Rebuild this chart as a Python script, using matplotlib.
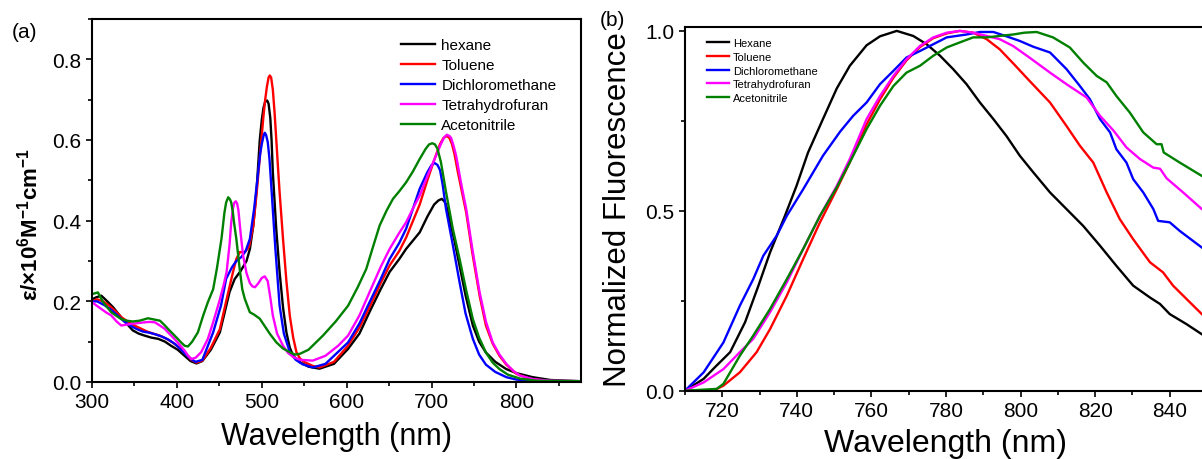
import numpy as np
import matplotlib
matplotlib.use("Agg")
import matplotlib.pyplot as plt
from matplotlib.ticker import MultipleLocator

plt.rcParams['font.family'] = ['Liberation Sans', 'DejaVu Sans']
plt.rcParams['mathtext.fontset'] = 'custom'
plt.rcParams['mathtext.rm'] = 'Liberation Sans'
plt.rcParams['mathtext.bf'] = 'Liberation Sans:bold'

# ---- (a) absorption spectra ----
abs_hex_wl = [300, 305, 311, 318, 325, 336, 348, 355, 362, 370, 378, 386, 393, 401, 409, 416, 423, 430, 440,
              450.6, 456, 462, 468, 475, 482, 486, 490, 494, 497.6, 500, 502, 504, 506.3, 508, 510, 511.5, 513,
              517, 521, 525, 529, 533, 537, 545, 555, 568, 585, 601.6, 615, 627, 640, 650.6, 662, 670, 686,
              695, 703, 708, 712, 715, 717, 721, 727, 733, 740, 748.6, 756, 764, 775, 788, 800, 819, 840, 860,
              875]
abs_hex = [0.205, 0.21, 0.214, 0.2, 0.185, 0.156, 0.128, 0.12, 0.115, 0.11, 0.107, 0.1, 0.09, 0.08, 0.065,
           0.052, 0.046, 0.052, 0.08, 0.123, 0.17, 0.223, 0.255, 0.275, 0.30, 0.33, 0.388, 0.48, 0.6, 0.65,
           0.68, 0.695, 0.698, 0.69, 0.655, 0.6, 0.52, 0.38, 0.272, 0.185, 0.123, 0.085, 0.065, 0.049, 0.038,
           0.033, 0.045, 0.082, 0.12, 0.174, 0.23, 0.273, 0.305, 0.33, 0.371, 0.41, 0.44, 0.45, 0.454, 0.448,
           0.44, 0.404, 0.35, 0.288, 0.215, 0.14, 0.1, 0.073, 0.05, 0.032, 0.022, 0.012, 0.005, 0.003, 0.002]

abs_tol_wl = [300, 306, 313, 320, 328, 335, 342, 350, 358, 365, 372, 380, 388, 395, 403, 410, 417, 423, 430,
              440, 450.6, 458, 466, 470, 474, 480, 485, 490, 494, 499.6, 502, 504, 506, 508, 509.4, 511, 513,
              515, 517, 519, 521, 525, 529, 533, 537, 540.8, 545, 550.6, 560, 568, 585, 601.6, 615, 627, 640,
              650.6, 662, 670, 686, 695, 703, 710, 714, 718, 721, 724, 727, 731, 740.8, 748, 756.5, 764, 772,
              780, 788, 800, 815, 835, 875]
abs_tol = [0.2, 0.205, 0.2, 0.19, 0.175, 0.16, 0.15, 0.14, 0.132, 0.125, 0.12, 0.115, 0.107, 0.098, 0.085,
           0.07, 0.055, 0.048, 0.053, 0.085, 0.131, 0.2, 0.272, 0.305, 0.322, 0.322, 0.335, 0.388, 0.47, 0.603,
           0.66, 0.7, 0.732, 0.755, 0.76, 0.755, 0.725, 0.67, 0.603, 0.535, 0.47, 0.355, 0.25, 0.164, 0.11,
           0.074, 0.058, 0.049, 0.04, 0.036, 0.05, 0.09, 0.135, 0.186, 0.245, 0.289, 0.325, 0.358, 0.44, 0.5,
           0.55, 0.59, 0.605, 0.61, 0.605, 0.59, 0.565, 0.52, 0.42, 0.32, 0.215, 0.14, 0.095, 0.065, 0.043,
           0.02, 0.008, 0.003, 0.002]

abs_dcm_wl = [300, 306, 315, 322, 330, 338, 345, 352, 360, 368, 375, 383, 390, 398, 405, 412, 418, 422, 430,
              442.7, 452, 458, 465, 470, 476, 481, 486, 491, 495.7, 498, 500, 502, 503.5, 505, 507, 509, 511.4,
              516, 521, 526, 533, 540, 548, 560, 575, 601.6, 615, 627, 640, 650.6, 662, 670, 686, 695, 700,
              703.5, 707, 710, 713, 717, 725, 733, 740, 748.6, 756, 764, 775, 788, 800, 820, 875]
abs_dcm = [0.2, 0.2, 0.19, 0.18, 0.165, 0.15, 0.14, 0.132, 0.125, 0.122, 0.118, 0.112, 0.105, 0.094, 0.08,
           0.065, 0.055, 0.05, 0.055, 0.123, 0.19, 0.256, 0.285, 0.30, 0.31, 0.325, 0.355, 0.43, 0.52, 0.565,
           0.59, 0.61, 0.618, 0.613, 0.595, 0.555, 0.479, 0.33, 0.189, 0.12, 0.074, 0.055, 0.044, 0.036,
           0.045, 0.098, 0.145, 0.198, 0.255, 0.305, 0.345, 0.38, 0.479, 0.52, 0.538, 0.543, 0.538, 0.525,
           0.49, 0.429, 0.34, 0.247, 0.17, 0.107, 0.068, 0.043, 0.025, 0.012, 0.006, 0.003, 0.002]

abs_thf_wl = [300, 305, 311, 317, 322.7, 329, 334.5, 340, 346, 354, 362, 368, 374, 380, 385.6, 391, 397, 403,
              409, 413, 417, 422, 428.6, 436.5, 442.7, 450, 455, 458.5, 462, 464, 466, 467.5, 469.4, 471,
              472.5, 475, 478, 482, 486, 489, 492, 496, 500, 503.5, 507, 510, 513, 518, 525, 531, 537, 545,
              560, 575, 590, 601.6, 615, 627, 640, 650.6, 662, 670, 678, 686, 695, 703, 711, 715, 718, 721,
              723, 726, 729, 735, 740.8, 748, 756.5, 764, 772, 780, 788, 796, 804, 820, 840, 875]
abs_thf = [0.198, 0.19, 0.181, 0.172, 0.165, 0.15, 0.14, 0.142, 0.144, 0.146, 0.148, 0.149, 0.148, 0.14,
           0.132, 0.12, 0.107, 0.093, 0.078, 0.066, 0.057, 0.06, 0.074, 0.107, 0.148, 0.2, 0.24, 0.272, 0.34,
           0.396, 0.43, 0.444, 0.448, 0.442, 0.425, 0.37, 0.313, 0.27, 0.245, 0.237, 0.235, 0.245, 0.258,
           0.262, 0.25, 0.21, 0.165, 0.12, 0.09, 0.072, 0.062, 0.055, 0.053, 0.065, 0.09, 0.115, 0.165, 0.223,
           0.285, 0.33, 0.37, 0.396, 0.43, 0.462, 0.51, 0.55, 0.59, 0.607, 0.613, 0.61, 0.605, 0.585, 0.56,
           0.49, 0.429, 0.33, 0.223, 0.15, 0.098, 0.068, 0.045, 0.028, 0.016, 0.007, 0.003, 0.002]

abs_acn_wl = [300, 307, 313, 318, 322.7, 328, 334.5, 341, 348, 356, 361, 366, 373, 380, 385, 389.4, 395, 401,
              405, 409, 413, 418, 424.7, 431, 436.5, 442.7, 447, 452.5, 456, 458, 460.4, 462.5, 464, 466, 467,
              470, 474, 477, 480, 485.9, 491, 497.6, 503, 510, 517.3, 525, 533, 539, 545, 555, 572, 587,
              601.6, 613, 623, 631, 638.8, 647, 654.5, 662, 670, 678, 686, 693, 697, 700.8, 704, 707, 711, 717,
              725, 733, 741, 748.6, 756, 764, 772, 780, 790, 805, 825, 875]
abs_acn = [0.218, 0.222, 0.198, 0.185, 0.173, 0.165, 0.156, 0.152, 0.15, 0.152, 0.155, 0.158, 0.155, 0.152,
           0.142, 0.132, 0.12, 0.107, 0.098, 0.09, 0.088, 0.1, 0.123, 0.165, 0.198, 0.23, 0.28, 0.355, 0.42,
           0.445, 0.458, 0.453, 0.445, 0.42, 0.4, 0.355, 0.28, 0.23, 0.206, 0.173, 0.167, 0.157, 0.14, 0.118,
           0.098, 0.083, 0.074, 0.068, 0.07, 0.08, 0.115, 0.15, 0.189, 0.235, 0.28, 0.335, 0.388, 0.425,
           0.454, 0.473, 0.495, 0.522, 0.553, 0.578, 0.589, 0.592, 0.589, 0.578, 0.545, 0.471, 0.38, 0.305,
           0.225, 0.156, 0.11, 0.073, 0.048, 0.032, 0.018, 0.008, 0.003, 0.002]

# ---- (b) normalized emission spectra ----
fl_hex_wl = [710, 715, 718, 722.1, 726.1, 729.7, 732.8, 736.8, 739.9, 743, 747, 750.7, 754.2, 758.7, 762.3,
             766.8, 771.2, 774.8, 778.4, 781.9, 785.5, 789.1, 792.7, 796.2, 799.8, 803.4, 807.9, 812.3, 816.8,
             821.3, 825.7, 830.2, 834.7, 837.4, 840, 844.5, 848.6, 850]
fl_hex = [0, 0.033, 0.065, 0.107, 0.19, 0.292, 0.384, 0.486, 0.569, 0.662, 0.755, 0.84, 0.903, 0.96, 0.985,
          1.0, 0.986, 0.963, 0.931, 0.894, 0.852, 0.801, 0.755, 0.708, 0.653, 0.607, 0.551, 0.505, 0.458,
          0.403, 0.347, 0.292, 0.259, 0.241, 0.213, 0.185, 0.157, 0.15]

fl_tol_wl = [710, 717.6, 720.3, 724.7, 729.2, 732.8, 737.3, 741.7, 746.2, 750.7, 754.2, 758.7, 762.3, 765.9,
             769.4, 773, 776.6, 780.2, 783.7, 787.3, 790.9, 794.4, 798, 802.5, 807.9, 812.3, 815.9, 819.5,
             823.1, 826.6, 830.2, 834.7, 838.2, 840.9, 844.5, 848.6, 850]
fl_tol = [0, 0, 0.014, 0.051, 0.107, 0.171, 0.264, 0.366, 0.468, 0.56, 0.635, 0.74, 0.81, 0.87, 0.918, 0.955,
          0.98, 0.993, 1.0, 0.995, 0.977, 0.949, 0.91, 0.86, 0.801, 0.736, 0.681, 0.634, 0.551, 0.477, 0.421,
          0.357, 0.329, 0.292, 0.255, 0.213, 0.2]

fl_dcm_wl = [710, 715, 720.3, 724.7, 728.3, 731, 734.6, 737.3, 741.7, 747, 751.6, 755.1, 758.7, 762.3, 765.9,
             769.4, 773, 776.6, 780.2, 785.5, 789.1, 792.7, 796.2, 799.8, 803.4, 807.9, 812.3, 815.9, 818.6,
             821.3, 824, 825.7, 828.4, 830.2, 832.9, 835.6, 836.9, 840, 842.7, 848.6, 850]
fl_dcm = [0, 0.051, 0.134, 0.236, 0.31, 0.375, 0.431, 0.486, 0.56, 0.653, 0.72, 0.764, 0.801, 0.852, 0.889,
          0.926, 0.944, 0.963, 0.982, 0.99, 0.997, 0.997, 0.985, 0.972, 0.956, 0.94, 0.894, 0.847, 0.81,
          0.755, 0.718, 0.671, 0.634, 0.588, 0.551, 0.505, 0.472, 0.468, 0.444, 0.398, 0.39]

fl_thf_wl = [710, 715, 720.3, 724.7, 728.3, 732.8, 737.3, 741.7, 746.2, 750.7, 754.2, 758.7, 762.3, 765.9,
             769.4, 773, 776.6, 780.2, 783.7, 787.3, 790.9, 794.4, 798, 802.5, 807.9, 812.3, 817.7, 821.3,
             825, 828.4, 832, 835.6, 837.4, 839.2, 843.6, 848.6, 850]
fl_thf = [0, 0.023, 0.06, 0.107, 0.144, 0.218, 0.301, 0.394, 0.486, 0.569, 0.644, 0.755, 0.819, 0.875, 0.921,
          0.958, 0.982, 0.995, 1.0, 0.995, 0.986, 0.977, 0.958, 0.925, 0.884, 0.852, 0.815, 0.764, 0.722,
          0.676, 0.644, 0.62, 0.617, 0.59, 0.551, 0.505, 0.495]

fl_acn_wl = [710, 718.5, 720.3, 724.7, 728.3, 732.8, 737.3, 741.7, 746.2, 750.7, 755.1, 758.7, 762.3, 765.9,
             769.4, 773, 776.6, 780.2, 783.7, 787.3, 791, 794.4, 798, 801, 804.3, 808.7, 813.2, 816.8, 820.4,
             823.1, 825.7, 829.3, 832.9, 836.5, 837.8, 838.4, 842.7, 848.6, 850]
fl_acn = [0, 0.005, 0.019, 0.097, 0.153, 0.227, 0.31, 0.394, 0.486, 0.565, 0.653, 0.727, 0.792, 0.847, 0.884,
          0.903, 0.931, 0.954, 0.968, 0.982, 0.982, 0.986, 0.99, 0.995, 0.997, 0.982, 0.954, 0.912, 0.875,
          0.857, 0.819, 0.773, 0.718, 0.685, 0.685, 0.662, 0.634, 0.597, 0.59]

colors = ['black', 'red', 'blue', 'magenta', 'green']
abs_labels = ['hexane', 'Toluene', 'Dichloromethane', 'Tetrahydrofuran', 'Acetonitrile']
fl_labels = ['Hexane', 'Toluene', 'Dichloromethane', 'Tetrahydrofuran', 'Acetonitrile']

abs_data = [(abs_hex_wl, abs_hex), (abs_tol_wl, abs_tol), (abs_dcm_wl, abs_dcm),
            (abs_thf_wl, abs_thf), (abs_acn_wl, abs_acn)]
fl_data = [(fl_hex_wl, fl_hex), (fl_tol_wl, fl_tol), (fl_dcm_wl, fl_dcm),
           (fl_thf_wl, fl_thf), (fl_acn_wl, fl_acn)]

W, H = 1202, 460
fig = plt.figure(figsize=(W / 100, H / 100), dpi=100)


def style_axes(ax):
    for s in ax.spines.values():
        s.set_linewidth(1.5)
    ax.tick_params(which='both', direction='out', width=1.2, labelsize=15, pad=3)
    ax.tick_params(which='major', length=4.5)
    ax.tick_params(which='minor', length=3)


# panel (a)
ax1 = fig.add_axes([92 / W, 1 - 383 / H, (581 - 92) / W, (383 - 20) / H])
for (x, y), c, lab in zip(abs_data, colors, abs_labels):
    ax1.plot(x, y, color=c, lw=1.7, label=lab)
ax1.set_xlim(300, 876)
ax1.set_ylim(0, 0.9)
ax1.xaxis.set_major_locator(MultipleLocator(100))
ax1.xaxis.set_minor_locator(MultipleLocator(50))
ax1.yaxis.set_major_locator(MultipleLocator(0.2))
ax1.yaxis.set_minor_locator(MultipleLocator(0.1))
style_axes(ax1)
ax1.set_xlabel('Wavelength (nm)', fontsize=22, labelpad=7)
ax1.set_ylabel('ε/×10$^{\\mathbf{6}}$M$^{\\mathbf{-1}}$cm$^{\\mathbf{-1}}$',
               fontsize=16, fontweight='bold')
ax1.yaxis.set_label_coords(-0.101, 0.435)
ax1.legend(loc='upper left', bbox_to_anchor=(0.632, 0.948), frameon=False, fontsize=11,
           handlelength=2.2, handletextpad=0.44, labelspacing=0.4, borderpad=0, borderaxespad=0)
fig.text(12 / W, 1 - 33 / H, '(a)', fontsize=15, va='center', ha='left')

# panel (b)
ax2 = fig.add_axes([685 / W, 1 - 391.7 / H, (1207 - 685) / W, (391.7 - 28.3) / H])
for (x, y), c, lab in zip(fl_data, colors, fl_labels):
    ax2.plot(x, y, color=c, lw=1.7, label=lab)
ax2.set_xlim(710, 850)
ax2.set_ylim(0, 1.01)
ax2.xaxis.set_major_locator(MultipleLocator(20))
ax2.xaxis.set_minor_locator(MultipleLocator(10))
ax2.yaxis.set_major_locator(MultipleLocator(0.5))
ax2.yaxis.set_minor_locator(MultipleLocator(0.25))
style_axes(ax2)
ax2.set_xlabel('Wavelength (nm)', fontsize=23, labelpad=6)
ax2.set_ylabel('Normalized Fluorescence', fontsize=22.5)
ax2.yaxis.set_label_coords(-0.099, 0.5)
ax2.legend(loc='upper left', bbox_to_anchor=(0.042, 0.97), frameon=False, fontsize=8,
           handlelength=2.0, handletextpad=0.33, labelspacing=0.33, borderpad=0, borderaxespad=0)
fig.text(600 / W, 1 - 20 / H, '(b)', fontsize=15, va='center', ha='left')

fig.savefig('out.png', dpi=100)
